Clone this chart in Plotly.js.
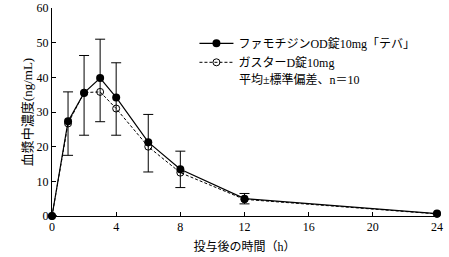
<!DOCTYPE html>
<html><head><meta charset="utf-8">
<script src="https://cdn.plot.ly/plotly-3.0.1.min.js"></script>
<style>html,body{margin:0;padding:0;background:#fff}</style>
</head><body><div id="chart" style="width:449px;height:257px"></div>
<script>
const times = [0, 1, 2, 3, 4, 6, 8, 12, 24];
const teva = [0, 27.3, 35.5, 39.8, 34.2, 21.3, 13.5, 5.0, 0.7];
const gaster = [0, 26.7, 35.6, 35.8, 31.0, 20.0, 12.5, 4.8, 0.6];
const errTop = [null, 35.8, 46.3, 51.0, 44.2, 29.3, 18.7, 6.5, null];
const errBottom = [null, 17.5, 23.3, 27.2, 23.3, 12.7, 8.2, 3.5, null];
const xTicks = [0, 4, 8, 12, 16, 20, 24];
const yTicks = [0, 10, 20, 30, 40, 50, 60];
const seriesNames = ['ファモチジンOD錠10mg「テバ」', 'ガスターD錠10mg'];
const noteText = '平均±標準偏差、n＝10';

const F = 'Liberation Serif, Noto Sans CJK JP, serif';
const plus = teva.map((v,i)=> errTop[i]==null?0:errTop[i]-v);
const minus = teva.map((v,i)=> errBottom[i]==null?0:v-errBottom[i]);

const data = [
  {x: times, y: gaster, name: seriesNames[1], type:'scatter', mode:'lines+markers',
   line:{color:'#000', width:1, dash:'3px,2px'},
   marker:{symbol:'circle-open', size:7, color:'#000', line:{width:1, color:'#000'}},
   cliponaxis:false, legendrank:2},
  {x: times, y: teva, name: seriesNames[0], type:'scatter', mode:'lines+markers',
   line:{color:'#000', width:1.2},
   marker:{symbol:'circle', size:8, color:'#000'},
   error_y:{type:'data', symmetric:false, array:plus, arrayminus:minus, color:'#000', thickness:1, width:5},
   cliponaxis:false, legendrank:1}
];
const layout = {
  width:449, height:257,
  margin:{l:52, r:12, t:8, b:41},
  paper_bgcolor:'#fff', plot_bgcolor:'#fff',
  font:{family:F, size:12, color:'#000'},
  showlegend:true,
  legend:{x:0.37, y:0.9, xanchor:'left', yanchor:'top', bgcolor:'rgba(0,0,0,0)',
          font:{family:F, size:12, color:'#000'}, itemwidth:34, traceorder:'normal'},
  xaxis:{range:[0,24], tickvals:xTicks, ticktext:xTicks.map(String), ticks:'inside', ticklen:4, tickcolor:'#000',
         showline:true, linecolor:'#000', linewidth:1, showgrid:false, zeroline:false,
         tickfont:{family:F, size:12}, title:{text:'投与後の時間（h）', font:{family:F, size:12}, standoff:9}},
  yaxis:{range:[0,60], tickvals:yTicks, ticktext:yTicks.map(String), ticks:'inside', ticklen:4, tickcolor:'#000',
         showline:true, linecolor:'#000', linewidth:1, showgrid:false, zeroline:false,
         tickfont:{family:F, size:12}, title:{text:'血漿中濃度(ng/mL)', font:{family:F, size:13}, standoff:1}},
  annotations:[{xref:'paper', yref:'paper', x:0.48, y:0.655, xanchor:'left', yanchor:'middle',
                text:noteText, showarrow:false, font:{family:F, size:12}}]
};
Plotly.newPlot('chart', data, layout, {displayModeBar:false, staticPlot:true});
</script></body></html>
